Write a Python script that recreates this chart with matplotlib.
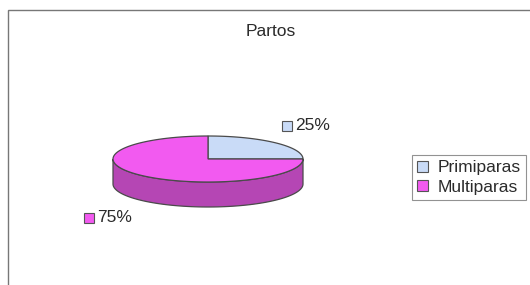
import matplotlib

matplotlib.use("Agg")
import matplotlib.pyplot as plt
import numpy as np
from matplotlib.patches import Polygon, Rectangle

plt.rcParams["font.family"] = ["Liberation Sans", "DejaVu Sans"]

TITLE = "Partos"
LABELS = ["Primiparas", "Multiparas"]
VALUES = [25, 75]

TOP_COLORS = ["#c9dbf7", "#f25af0"]
SIDE_COLORS = ["#8fa6c8", "#b546b4"]
EDGE = "#4a4a4a"
INK = "#2b2b2b"

W, H = 530, 285
CX, CY = 208, H - 159
RX, RY = 95, 23
DEPTH = 25
FS = 12.5

fig = plt.figure(figsize=(W / 100, H / 100), dpi=100)
ax = fig.add_axes([0, 0, 1, 1])
ax.set_xlim(0, W)
ax.set_ylim(0, H)
ax.axis("off")

# chart frame (cropped on the right and bottom in the scan)
ax.add_patch(Rectangle((8, -20), W + 20, H - 10 + 20, fill=False, edgecolor="#777777", linewidth=1.0))

fracs = np.array(VALUES, dtype=float) / sum(VALUES)
starts = 90 - 360 * np.concatenate([[0], np.cumsum(fracs)[:-1]])
ends = starts - 360 * fracs


def ell(t):
    r = np.radians(t)
    return CX + RX * np.cos(r), CY + RY * np.sin(r)


# side walls (front half: angles 180..360)
for s, e, col in zip(starts, ends, SIDE_COLORS):
    lo, hi = e % 360, s % 360
    if hi <= lo:
        hi += 360
    for off in (0, 360, -360):
        a, b = max(lo, 180 + off), min(hi, 360 + off)
        if b > a:
            t = np.linspace(a, b, 80)
            x, y = ell(t)
            pts = np.concatenate([np.c_[x, y], np.c_[x[::-1], y[::-1] - DEPTH]])
            ax.add_patch(Polygon(pts, closed=True, facecolor=col, edgecolor=EDGE, linewidth=0.9))

# top faces
for s, e, col in zip(starts, ends, TOP_COLORS):
    t = np.linspace(s, e, 150)
    x, y = ell(t)
    pts = np.concatenate([[[CX, CY]], np.c_[x, y]])
    ax.add_patch(Polygon(pts, closed=True, facecolor=col, edgecolor=EDGE, linewidth=0.9))

ax.text(271, H - 31, TITLE, ha="center", va="center", fontsize=FS, color=INK)

# percentage labels with colour keys
label_pos = [(295, H - 126), (97, H - 218)]
for (lx, ly), v, col in zip(label_pos, fracs, TOP_COLORS):
    ax.add_patch(Rectangle((lx - 13, ly - 5), 10, 10, facecolor=col, edgecolor="#555555", linewidth=0.8))
    ax.text(lx, ly, f"{v:.0%}", ha="left", va="center", fontsize=FS, color=INK)

handles = [Rectangle((0, 0), 1, 1, facecolor=c, edgecolor="#555555", linewidth=0.8) for c in TOP_COLORS]
leg = fig.legend(handles, LABELS, loc="upper left", bbox_to_anchor=(412 / W, 1 - 155 / H),
                 frameon=True, fancybox=False, fontsize=FS, handlelength=0.6, handleheight=0.6,
                 handletextpad=0.6, borderpad=0.3, labelspacing=0.25, borderaxespad=0)
leg.get_frame().set_edgecolor("#777777")
leg.get_frame().set_linewidth(0.8)
for txt in leg.get_texts():
    txt.set_color(INK)

fig.savefig("out.png", dpi=100)
